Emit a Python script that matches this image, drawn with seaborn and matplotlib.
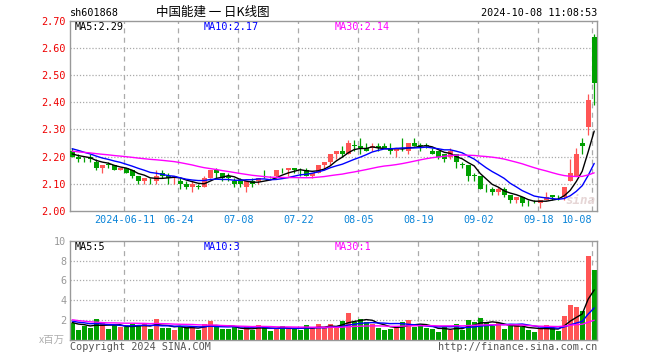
import numpy as np
import pandas as pd
import matplotlib
matplotlib.use("Agg")
import matplotlib.pyplot as plt
import seaborn as sns

# trading days shown (holidays removed)
holidays = ["2024-06-10", "2024-09-16", "2024-09-17", "2024-10-01", "2024-10-02",
            "2024-10-03", "2024-10-04", "2024-10-07"]
dates = [d for d in pd.bdate_range("2024-05-28", "2024-10-08").strftime("%Y-%m-%d") if d not in holidays]

tick_dates = ["2024-06-11", "2024-06-24", "2024-07-08", "2024-07-22", "2024-08-05",
              "2024-08-19", "2024-09-02", "2024-09-18", "2024-10-08"]
tick_labels = ["2024-06-11", "06-24", "07-08", "07-22", "08-05", "08-19", "09-02", "09-18", "10-08"]

opens = [2.22, 2.20, 2.19, 2.20, 2.18, 2.16, 2.17, 2.17, 2.15, 2.16,
         2.15, 2.13, 2.11, 2.11, 2.11, 2.14, 2.13, 2.12, 2.11, 2.10,
         2.09, 2.09, 2.09, 2.12, 2.15, 2.14, 2.13, 2.11, 2.11, 2.09,
         2.11, 2.11, 2.12, 2.12, 2.13, 2.15, 2.15, 2.16, 2.15, 2.15,
         2.13, 2.14, 2.17, 2.18, 2.21, 2.22, 2.21, 2.24, 2.24, 2.23,
         2.23, 2.24, 2.24, 2.23, 2.22, 2.23, 2.22, 2.25, 2.24, 2.24,
         2.22, 2.22, 2.21, 2.20, 2.21, 2.17, 2.17, 2.13, 2.13, 2.08,
         2.08, 2.07, 2.08, 2.06, 2.04, 2.05, 2.03, 2.03, 2.03, 2.04,
         2.06, 2.05, 2.05, 2.11, 2.13, 2.25, 2.31, 2.64]
highs = [2.23, 2.21, 2.20, 2.21, 2.19, 2.17, 2.18, 2.17, 2.16, 2.16,
         2.15, 2.13, 2.12, 2.12, 2.15, 2.15, 2.14, 2.13, 2.12, 2.11,
         2.11, 2.10, 2.13, 2.15, 2.16, 2.14, 2.14, 2.12, 2.12, 2.11,
         2.12, 2.12, 2.15, 2.13, 2.15, 2.16, 2.16, 2.16, 2.16, 2.16,
         2.14, 2.17, 2.18, 2.21, 2.22, 2.24, 2.26, 2.26, 2.27, 2.25,
         2.25, 2.25, 2.25, 2.25, 2.23, 2.27, 2.25, 2.27, 2.25, 2.25,
         2.23, 2.22, 2.21, 2.23, 2.21, 2.18, 2.17, 2.14, 2.13, 2.10,
         2.09, 2.09, 2.09, 2.06, 2.05, 2.05, 2.04, 2.04, 2.04, 2.07,
         2.06, 2.06, 2.09, 2.19, 2.23, 2.27, 2.43, 2.65]
lows = [2.20, 2.18, 2.18, 2.18, 2.15, 2.14, 2.16, 2.15, 2.15, 2.14,
        2.12, 2.10, 2.10, 2.10, 2.10, 2.12, 2.10, 2.10, 2.08, 2.08,
        2.07, 2.08, 2.09, 2.12, 2.12, 2.11, 2.11, 2.09, 2.09, 2.07,
        2.09, 2.10, 2.12, 2.12, 2.12, 2.14, 2.13, 2.14, 2.13, 2.13,
        2.12, 2.14, 2.15, 2.17, 2.19, 2.20, 2.21, 2.22, 2.21, 2.22,
        2.22, 2.22, 2.23, 2.21, 2.20, 2.22, 2.21, 2.24, 2.22, 2.23,
        2.21, 2.19, 2.18, 2.19, 2.16, 2.16, 2.11, 2.11, 2.08, 2.07,
        2.06, 2.06, 2.05, 2.03, 2.03, 2.02, 2.02, 2.03, 2.01, 2.04,
        2.04, 2.04, 2.04, 2.11, 2.13, 2.21, 2.28, 2.39]
closes = [2.20, 2.19, 2.19, 2.19, 2.16, 2.17, 2.17, 2.15, 2.16, 2.14,
          2.13, 2.11, 2.12, 2.11, 2.13, 2.13, 2.12, 2.13, 2.10, 2.09,
          2.10, 2.09, 2.12, 2.15, 2.14, 2.12, 2.12, 2.10, 2.10, 2.11,
          2.10, 2.12, 2.12, 2.12, 2.15, 2.15, 2.16, 2.15, 2.15, 2.13,
          2.14, 2.17, 2.18, 2.21, 2.22, 2.21, 2.25, 2.24, 2.23, 2.22,
          2.24, 2.23, 2.23, 2.22, 2.23, 2.23, 2.25, 2.24, 2.24, 2.24,
          2.21, 2.20, 2.19, 2.22, 2.18, 2.17, 2.13, 2.13, 2.08, 2.08,
          2.07, 2.08, 2.06, 2.04, 2.05, 2.03, 2.03, 2.03, 2.04, 2.05,
          2.05, 2.05, 2.09, 2.14, 2.21, 2.24, 2.41, 2.47]
# volume, millions of shares
volumes = [1.73, 1.0, 1.4, 1.23, 2.1, 1.67, 1.1, 1.47, 1.33, 1.27,
           1.63, 1.4, 1.63, 1.1, 2.1, 1.23, 1.23, 1.0, 1.33, 1.33,
           1.33, 1.0, 1.6, 1.9, 1.5, 1.1, 1.1, 1.27, 1.0, 1.27,
           1.0, 1.5, 1.27, 0.9, 1.23, 1.4, 1.1, 1.17, 1.0, 1.5,
           1.17, 1.6, 1.17, 1.6, 1.3, 1.93, 2.67, 1.83, 2.07, 1.77,
           1.6, 1.23, 1.0, 1.1, 1.4, 1.83, 2.0, 1.33, 1.43, 1.17,
           1.1, 0.83, 1.27, 1.0, 1.6, 1.0, 2.0, 1.8, 2.2, 1.73,
           1.4, 1.67, 1.1, 1.4, 1.47, 1.33, 1.0, 0.83, 1.13, 1.47,
           1.17, 0.93, 2.4, 3.5, 3.33, 2.93, 8.43, 7.0]
# sessions before the window, estimated from where the MA lines start
prior_closes = [2.26, 2.25, 2.25, 2.24, 2.24, 2.23, 2.23, 2.22,
                2.21, 2.20, 2.19, 2.19, 2.18, 2.18, 2.19, 2.19, 2.20, 2.21,
                2.22, 2.23, 2.25, 2.26, 2.25, 2.24, 2.24, 2.22, 2.21, 2.21, 2.21]
prior_volumes = [3.4, 3.1, 3.3, 2.9, 3.2,
                 1.8, 1.6, 1.9, 1.7, 1.6, 1.8, 1.7, 1.9, 1.6, 1.8, 1.7, 1.9, 1.8, 1.7, 1.6,
                 2.1, 2.0, 2.2, 1.9, 2.0, 1.8, 1.7, 1.9, 1.7]

price_ma_labels = ["MA5:2.29", "MA10:2.17", "MA30:2.14"]
vol_ma_labels = ["MA5:5", "MA10:3", "MA30:1"]

RED = "#ff5555"
GREEN = "#00a000"
MA_COLORS = ["#000000", "#0000ff", "#ff00ff"]
GRID = "#aaaaaa"

sns.set_style("white")
plt.rcParams['font.family'] = ['DejaVu Sans Mono', 'Noto Sans CJK SC']

df = pd.DataFrame({"date": dates, "open": opens, "high": highs, "low": lows,
                   "close": closes, "vol": volumes})
df["i"] = np.arange(len(df))
prev = [prior_closes[-1]] + closes[:-1]
df["up"] = (df.close > df.open) | ((df.close == df.open) & (df.close > prev))
df["color"] = np.where(df.up, RED, GREEN)

n = len(df)
all_c = pd.Series(prior_closes + closes)
all_v = pd.Series(prior_volumes + volumes)
for w in (5, 10, 30):
    df[f"ma{w}"] = all_c.rolling(w).mean().values[-n:]
    df[f"vma{w}"] = all_v.rolling(w).mean().values[-n:]

W, H = 660, 360
fig = plt.figure(figsize=(6.6, 3.6), dpi=100)
L, R = 70.3, 596.7
ax = fig.add_axes([L / W, 1 - 211 / H, (R - L) / W, (211 - 20.7) / H])
axv = fig.add_axes([L / W, 1 - 340 / H, (R - L) / W, (340 - 240.7) / H])

xlim = ((L - 72.2) / 6, (R - 72.2) / 6)
tick_pos = [dates.index(d) - 0.3 for d in tick_dates]

for a in (ax, axv):
    a.set_xlim(*xlim)
    for s in a.spines.values():
        s.set_color("#999999")
        s.set_linewidth(1.0)
    for t in tick_pos:
        a.axvline(t, color=GRID, lw=0.9, ls=(0, (4, 3.5)), zorder=0)
    a.tick_params(length=0)

# candles
body_lo = df[["open", "close"]].min(axis=1)
body_h = (df.close - df.open).abs().clip(lower=0.0012)
ax.vlines(df.i, df.low, df.high, colors=df.color, lw=0.9, zorder=2)
ax.bar(df.i, body_h, bottom=body_lo, width=0.78, color=df.color, lw=0, zorder=3)
for w, c in zip((5, 10, 30), MA_COLORS):
    sns.lineplot(x=df.i, y=df[f"ma{w}"], ax=ax, color=c, lw=1.0, zorder=4)

ax.set_ylim(2.0, 2.7)
ax.set_yticks(np.arange(2.0, 2.71, 0.1))
ax.set_yticklabels([f"{v:.2f}" for v in np.arange(2.0, 2.71, 0.1)], color="#ee0000", fontsize=7.3)
for v in np.arange(2.1, 2.65, 0.1):
    ax.axhline(v, color=GRID, lw=0.9, ls=(0, (1, 1.5)), zorder=0)
ax.set_xticks(tick_pos)
ax.set_xticklabels(tick_labels, color="#0a84d8", fontsize=7.3)
ax.get_xticklabels()[-1].set_ha("right")
ax.get_xticklabels()[-1].set_x(tick_pos[-1] + 0.4)
ax.tick_params(axis="y", pad=3)
ax.tick_params(axis="x", pad=3)
ax.set_xlabel("")
ax.set_ylabel("")

# volume
axv.bar(df.i, df.vol, width=0.78, color=df.color, lw=0, zorder=2)
for w, c in zip((5, 10, 30), MA_COLORS):
    sns.lineplot(x=df.i, y=df[f"vma{w}"], ax=axv, color=c, lw=1.0, zorder=4)
axv.set_ylim(0, 10)
axv.set_yticks([2, 4, 6, 8, 10])
axv.set_yticklabels(["2", "4", "6", "8", "10"], color="#999999", fontsize=7.3)
for v in (2, 4, 6, 8):
    axv.axhline(v, color=GRID, lw=0.9, ls=(0, (1, 1.5)), zorder=0)
axv.set_xticks([])
axv.tick_params(axis="y", pad=3)
axv.set_xlabel("")
axv.set_ylabel("")

def ftext(x, y, s, **kw):
    fig.text(x / W, 1 - y / H, s, va="center", **kw)

ftext(70, 13, "sh601868", fontsize=7.3, color="#000000")
ftext(213, 12.5, "中国能建 一 日K线图", fontsize=9, ha="center", color="#000000",
      family=["Noto Sans CJK SC", "DejaVu Sans"])
ftext(597, 13, "2024-10-08 11:08:53", fontsize=7.3, ha="right", color="#000000")
for x0, s, c in zip((75, 204, 335), price_ma_labels, MA_COLORS):
    ftext(x0, 26.5, s, fontsize=7.3, color=c)
for x0, s, c in zip((75, 204, 335), vol_ma_labels, MA_COLORS):
    ftext(x0, 246.5, s, fontsize=7.3, color=c)
ftext(65, 340, "x百万", fontsize=7.5, ha="right", color="#b0b0b0",
      family=["Noto Sans CJK SC", "DejaVu Sans"])
ftext(70, 346.5, "Copyright 2024 SINA.COM", fontsize=7.3, color="#555555")
ftext(597, 346.5, "http://finance.sina.com.cn", fontsize=7.3, ha="right", color="#555555")
ftext(580, 200, "sina", fontsize=9, ha="center", color="#e6d6d6", style="italic", weight="bold")

fig.savefig("out.png", dpi=100)
